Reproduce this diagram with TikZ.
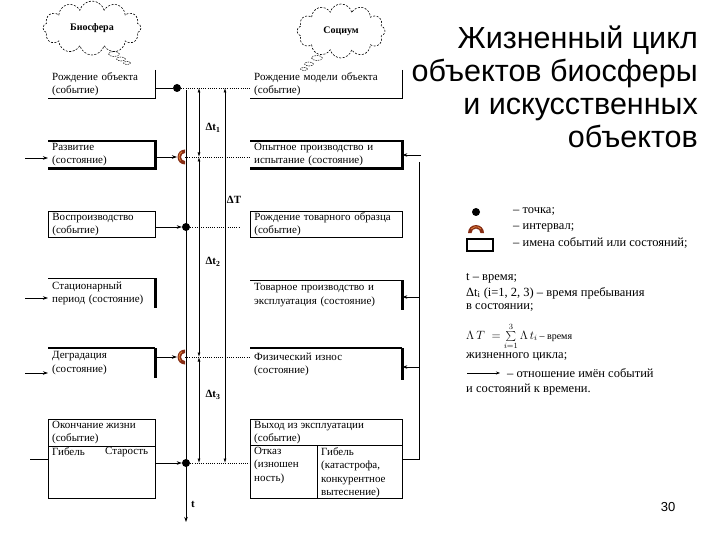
\documentclass[tikz,border=0pt]{standalone}
\usepackage{fontspec}
\setmainfont{Liberation Serif}
\newfontfamily\titlefont{Liberation Sans}
\usetikzlibrary{arrows.meta,shapes.symbols,shapes.geometric}
\definecolor{brownint}{RGB}{135,45,20}
\definecolor{orangeint}{RGB}{225,130,60}
\begin{document}
\begin{tikzpicture}[x=1pt,y=-1pt,
  boxtext/.style={font=\fontsize{11}{13.5}\selectfont, align=left, anchor=north west, inner xsep=4pt, inner ysep=0pt},
  lbox/.style={boxtext, text width=99pt, minimum height=28pt},
  rbox/.style={boxtext, text width=144pt, minimum height=28pt},
  thinb/.style={line width=0.8pt},
  thickb/.style={line width=2.6pt},
  arr/.style={line width=0.7pt, -{Stealth[length=5pt,width=3.5pt]}},
  dotl/.style={line width=0.7pt, dash pattern=on 1pt off 1.2pt},
  dim/.style={line width=0.7pt, {Latex[length=4.5pt,width=3pt]}-{Latex[length=4.5pt,width=3pt]}},
  dotnode/.style={circle, fill=black, inner sep=0pt, minimum size=8pt},
  dimlab/.style={font=\fontsize{11}{13}\selectfont\bfseries, inner sep=0pt},
  cloudn/.style={cloud, cloud ignores aspect, draw, dash pattern=on 2pt off 1.5pt, line width=0.6pt, cloud puffs=12, inner sep=1pt, font=\fontsize{10}{12}\selectfont\bfseries},
  puff/.style={ellipse, draw, dash pattern=on 1.5pt off 1pt, line width=0.5pt, inner sep=0pt},
  legtext/.style={font=\fontsize{12.5}{14}\selectfont, anchor=west, inner sep=0pt}
]
\useasboundingbox (0,0) rectangle (720,540);

% title
\node[anchor=north east, align=right, inner sep=0pt, font=\titlefont\fontsize{30.5}{33}\selectfont] (title) at (698,26) {Жизненный цикл\\объектов биосферы\\и искусственных\\объектов};
\node[font=\titlefont\fontsize{13}{15}\selectfont, inner sep=0pt] (pg) at (668,507) {30};

% clouds
\node[cloudn, minimum width=98pt, minimum height=54pt] (bio) at (92,28) {Биосфера};
\node[puff, minimum width=11pt, minimum height=5pt] (bp1) at (114,54) {};
\node[puff, minimum width=9pt, minimum height=4pt] (bp2) at (121,59) {};
\node[puff, minimum width=7pt, minimum height=3pt] (bp3) at (127,63) {};
\node[cloudn, minimum width=88pt, minimum height=54pt] (soc) at (341,31) {Социум};
\node[puff, minimum width=11pt, minimum height=5pt] (sp1) at (317,58) {};
\node[puff, minimum width=9pt, minimum height=4pt] (sp2) at (309,64) {};
\node[puff, minimum width=7pt, minimum height=3pt] (sp3) at (304,69) {};

% left boxes
\node[lbox] (L1) at (48,70) {Рождение объекта\\(событие)};
\draw[thinb] (L1.north east) -- (L1.south east) -- (L1.south west);
\node[lbox, minimum height=27pt] (L2) at (48,141) {Развитие\\(состояние)};
\draw[thickb] (L2.north west) -- (L2.north east) -- (L2.south east) -- (L2.south west);
\node[lbox, minimum height=26pt, draw, thinb] (L3) at (48,211) {Воспроизводство\\(событие)};
\node[lbox, minimum height=30pt] (L4) at (48,278) {Стационарный\\период (состояние)};
\draw[thinb] (L4.north west) -- (L4.north east);
\draw[thickb] (L4.north east) -- (L4.south east);
\node[lbox, minimum height=30pt] (L5) at (48,348) {Деградация\\(состояние)};
\draw[line width=1.2pt] (L5.north west) -- (L5.north east);
\draw[thickb] (L5.north east) -- (L5.south east);
\node[lbox, minimum height=79pt, draw, thinb] (L6) at (48,419) {};
\node[boxtext] (L6t) at (48,421) {Окончание жизни\\(событие)};
\node[boxtext] (L6a) at (48,447) {Гибель};
\node[boxtext] (L6b) at (101,447) {Старость};
\draw[thinb] ([yshift=-27pt]L6.north west) -- ([yshift=-27pt]L6.north east);

% right boxes
\node[rbox] (R1) at (250,70) {Рождение модели объекта\\(событие)};
\draw[thinb] (R1.north east) -- (R1.south east) -- (R1.south west);
\node[rbox, minimum height=27pt] (R2) at (250,141) {Опытное производство и\\испытание (состояние)};
\draw[thickb] (R2.north west) -- (R2.north east) -- (R2.south east) -- (R2.south west);
\node[rbox, minimum height=26pt, draw, thinb] (R3) at (250,211) {Рождение товарного образца\\(событие)};
\node[rbox, minimum height=30pt] (R4) at (250,280) {Товарное производство и\\эксплуатация (состояние)};
\draw[thinb] (R4.north west) -- (R4.north east);
\draw[thickb] (R4.north east) -- (R4.south east);
\node[rbox, minimum height=32pt] (R5) at (250,348) {Физический износ\\(состояние)};
\draw[line width=1.2pt] (R5.north west) -- (R5.north east);
\draw[thickb] (R5.north east) -- (R5.south east);
\node[rbox, minimum height=79pt, draw, thinb] (R6) at (250,419) {};
\node[boxtext] (R6t) at (250,421) {Выход из эксплуатации\\(событие)};
\node[boxtext] (R6a) at (250,447) {Отказ\\(изношен\\ность)};
\node[boxtext] (R6b) at (317,447) {Гибель\\(катастрофа,\\конкурентное\\вытеснение)};
\draw[thinb] ([yshift=-26pt]R6.north west) -- ([yshift=-26pt]R6.north east);
\draw[thinb] ([yshift=-26pt,xshift=67pt]R6.north west) -- ([xshift=67pt]R6.south west);

% time axis
\coordinate (ax0) at (186,90);
\coordinate (ax1) at (186,522);
\draw[arr] (ax0) -- (ax1);
\node[dimlab] (tl) at (193,504) {t};

% points and intervals
\node[dotnode] (d1) at (177,88) {};
\node[dotnode] (d3) at (186,227) {};
\node[dotnode] (d6) at (186,463) {};
\coordinate (i1) at (185,157);
\coordinate (i2) at (185,357);
\foreach \c in {i1,i2}{
  \fill[brownint] ([shift={(90:7.5pt)}]\c) arc[start angle=90,end angle=270,radius=7.5pt] -- ++(0,3.5pt) arc[start angle=270,end angle=90,radius=4pt] -- cycle;
  \draw[orangeint, line width=0.8pt] ([shift={(120:6pt)}]\c) arc[start angle=120,end angle=220,radius=6pt];
}

% connectors left -> axis
\draw[thinb] (L1.east |- d1) -- (d1);
\draw[arr] (L2.east |- i1) -- ([xshift=-8pt]i1);
\draw[arr] (L3.east |- d3) -- (d3);
\draw[arr] (L5.east |- i2) -- ([xshift=-8pt]i2);
\draw[arr] (L6.east |- d6) -- (d6);

% incoming arrows at far left
\coordinate (inL2) at (25,158);
\coordinate (inL4) at (25,298);
\coordinate (inL5) at (25,373);
\coordinate (inL6) at (30,459);
\draw[arr] (inL2) -- (L2.west |- inL2);
\draw[arr] (inL4) -- (L4.west |- inL4);
\draw[arr] (inL5) -- (L5.west |- inL5);
\draw[thinb] (inL6) -- (L6.west |- inL6);

% dotted relations to right column
\draw[dotl] (d1) -- (R1.west |- d1);
\draw[dotl] (i1) -- (R2.west |- i1);
\draw[dotl] (d3) -- ([xshift=-10pt]R3.west |- d3);
\draw[dotl] (i2) -- (R5.west |- i2);
\draw[dotl] (d6) -- (R6.west |- d6);

% dimension lines
\coordinate (dx) at (199,0);
\coordinate (Dx) at (225,0);
\draw[dim] (d1 -| dx) -- (i1 -| dx);
\draw[dim] (i1 -| dx) -- (i2 -| dx);
\draw[dim] (i2 -| dx) -- (d6 -| dx);
\draw[dim] (d1 -| Dx) -- (d6 -| Dx);
\node[dimlab] (lt1) at (213,128) {Δt\textsubscript{1}};
\node[dimlab] (lT) at (234,200) {ΔT};
\node[dimlab] (lt2) at (213,262) {Δt\textsubscript{2}};
\node[dimlab] (lt3) at (213,395) {Δt\textsubscript{3}};

% right feedback line
\coordinate (rv2) at (421,155);
\coordinate (rv4) at (419,297);
\coordinate (rv5) at (419,367);
\coordinate (rv6) at (419,459);
\draw[thinb] (rv6 |- 0,162) -- (rv6) -- (R6.east |- rv6);
\draw[arr] (rv2) -- (R2.east |- rv2);
\draw[arr] (rv4) -- (R4.east |- rv4);
\draw[arr] (rv5) -- (R5.east |- rv5);

% legend
\node[dotnode] (ld) at (476,212) {};
\node[legtext] (ldt) at (513,212) {– точка;};
\coordinate (la) at (476,233);
\fill[brownint] ([shift={(0:8pt)}]la) arc[start angle=0,end angle=180,radius=8pt] -- ++(3.5pt,0) arc[start angle=180,end angle=0,radius=4.5pt] -- cycle;
\draw[orangeint, line width=0.8pt] ([shift={(40:6.3pt)}]la) arc[start angle=40,end angle=140,radius=6.3pt];
\node[legtext] (lat) at (513,228) {– интервал;};
\node[draw, line width=1.1pt, minimum width=26pt, minimum height=12pt, inner sep=0pt] (lr) at (480,245) {};
\node[legtext] (lrt) at (513,243) {– имена событий или состояний;};
\node[legtext] (lg1) at (466,278) {t – время;};
\node[legtext] (lg2) at (466,293) {Δt\textsubscript{i} (i=1, 2, 3) – время пребывания};
\node[legtext] (lg3) at (466,308) {в состоянии;};
\node[legtext, font=\fontsize{12}{14}\selectfont] (lg4) at (466,336) {$\Lambda\, T \;= \mathop{\textstyle\sum}\limits_{i=1}^{3}\Lambda\, t_i$\,{\fontsize{10}{12}\selectfont – время}};
\node[legtext] (lg5) at (466,357) {жизненного цикла;};
\coordinate (la0) at (467,373);
\coordinate (la1) at (500,373);
\draw[line width=0.6pt, -{Stealth[length=4pt,width=3pt]}] (la0) -- (la1);
\node[legtext] (lg6) at (507,373) {– отношение имён событий};
\node[legtext] (lg7) at (466,390) {и состояний к времени.};
\end{tikzpicture}
\end{document}
